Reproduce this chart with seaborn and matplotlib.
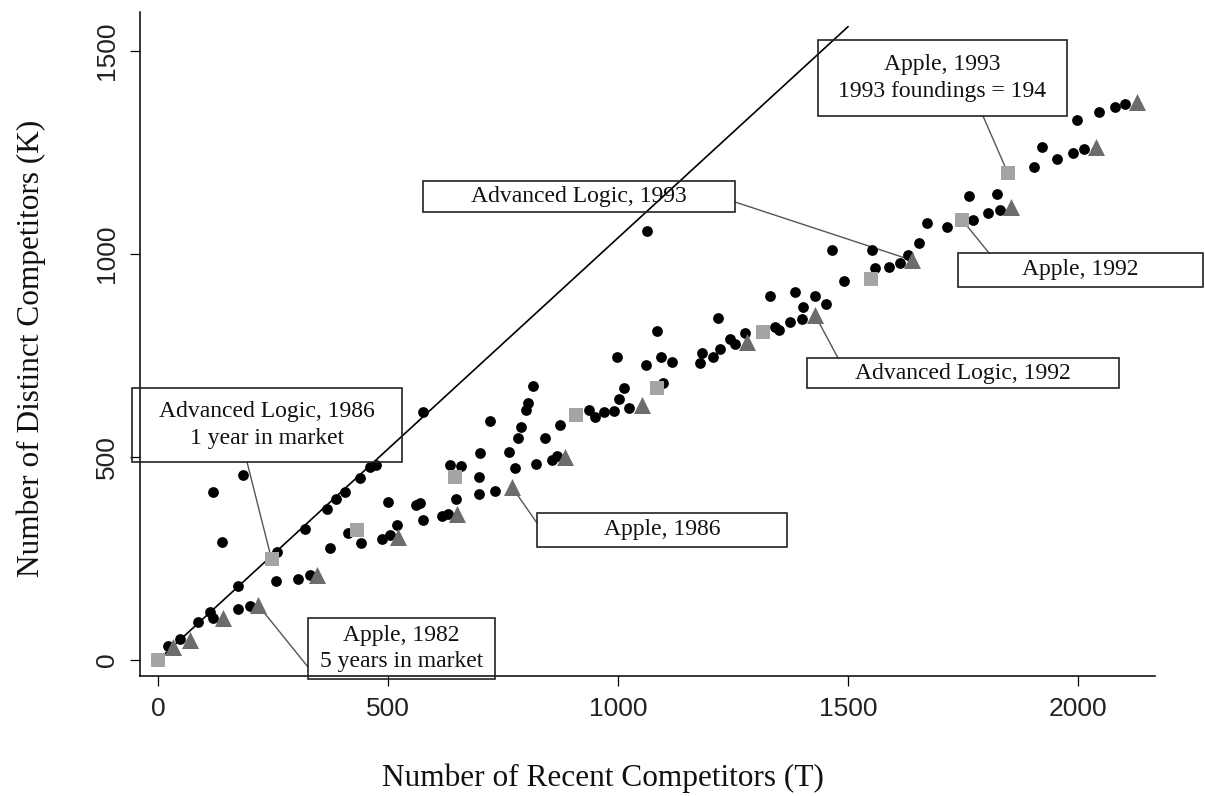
import numpy as np
import pandas as pd
import matplotlib
matplotlib.use('Agg')
import matplotlib.pyplot as plt
import seaborn as sns
from matplotlib.patches import Rectangle

# Recent competitors (T) vs distinct competitors (K), all firm-years
dots_t = [22, 48, 88, 113, 120, 120, 139, 175, 175, 184, 200, 256, 258, 305, 320, 330,
          368, 374, 388, 406, 412, 439, 441, 461, 475, 486, 501, 504, 519, 561, 570, 575,
          577, 617, 631, 634, 647, 658, 697, 697, 700, 722, 733, 762, 775, 782, 788, 801,
          805, 816, 822, 841, 856, 868, 874, 936, 950, 970, 991, 997, 1001, 1014, 1023,
          1061, 1062, 1084, 1093, 1098, 1117, 1178, 1183, 1207, 1218, 1222, 1243, 1254,
          1276, 1330, 1341, 1349, 1374, 1385, 1399, 1403, 1428, 1453, 1464, 1492, 1551,
          1559, 1588, 1613, 1631, 1655, 1672, 1714, 1763, 1771, 1805, 1823, 1830, 1903,
          1921, 1955, 1988, 1997, 2012, 2046, 2080, 2102]
dots_k = [34, 53, 94, 119, 103, 415, 291, 127, 182, 456, 133, 195, 267, 201, 324, 209,
          373, 275, 398, 415, 314, 448, 289, 475, 480, 298, 390, 308, 334, 382, 387, 345,
          610, 356, 361, 480, 398, 478, 410, 451, 509, 589, 417, 513, 474, 546, 575, 616,
          632, 676, 484, 546, 494, 502, 580, 617, 599, 612, 614, 746, 642, 669, 622,
          727, 1057, 811, 747, 683, 735, 732, 757, 746, 842, 767, 790, 778,
          805, 897, 821, 814, 833, 906, 841, 870, 897, 878, 1010, 934, 1010,
          965, 969, 977, 998, 1026, 1077, 1067, 1143, 1085, 1100, 1149, 1108, 1215,
          1263, 1235, 1249, 1330, 1258, 1349, 1363, 1369]

# Apple firm-years (light grey squares)
apple_t = [0, 247, 432, 646, 909, 1084, 1316, 1549, 1747, 1847]
apple_k = [0, 248, 320, 451, 603, 669, 807, 938, 1085, 1200]

# Advanced Logic firm-years (dark grey triangles)
adv_t = [33, 70, 142, 218, 345, 522, 649, 769, 885, 1051, 1280, 1428, 1638, 1855, 2039, 2128]
adv_k = [33, 49, 103, 135, 209, 304, 361, 427, 501, 628, 784, 850, 985, 1116, 1264, 1375]

# reference line K = T (as drawn)
ref_t = [0, 1500]
ref_k = [0, 1560]

W, H = 1205, 796

sns.set_theme(style='white')
plt.rcParams['font.family'] = ['Liberation Serif', 'DejaVu Serif']

fig = plt.figure(figsize=(W / 100, H / 100), dpi=100)
ax = fig.add_axes([140 / W, (H - 676) / H, (1155 - 140) / W, (676 - 12) / H])

sns.lineplot(x=ref_t, y=ref_k, ax=ax, color='black', linewidth=1.2, zorder=2)
sns.scatterplot(x=dots_t, y=dots_k, ax=ax, color='black', marker='o', s=60,
                linewidth=0, zorder=3)
sns.scatterplot(x=apple_t, y=apple_k, ax=ax, color='#a4a4a4', marker='s', s=115,
                linewidth=0, zorder=4)
sns.scatterplot(x=adv_t, y=adv_k, ax=ax, color='#6c6c6c', marker='^', s=150,
                linewidth=0, zorder=4)

ax.set_xlim(-39, 2167)
ax.set_ylim(-39, 1596)
ax.set_xticks([0, 500, 1000, 1500, 2000])
ax.set_yticks([0, 500, 1000, 1500])
sns.despine(ax=ax)
for sp in ['left', 'bottom']:
    ax.spines[sp].set_color('black')
    ax.spines[sp].set_linewidth(1.1)
ax.tick_params(axis='both', direction='out', length=7, width=0.9, color='black',
               labelsize=19, labelcolor='#222', pad=8, left=True, bottom=True)
for lab in ax.get_xticklabels() + ax.get_yticklabels():
    lab.set_family(['Liberation Sans', 'DejaVu Sans'])
for lab in ax.get_yticklabels():
    lab.set_rotation(90)
    lab.set_va('center')
ax.set_xlabel('')
ax.set_ylabel('')

fig.text(603 / W, 1 - 778 / H, 'Number of Recent Competitors (T)', ha='center',
         va='center', fontsize=22.5, color='#111')
fig.text(31 / W, 1 - 348 / H, 'Number of Distinct Competitors (K)', ha='center',
         va='center', rotation=90, fontsize=22.5, color='#111')


def label_box(box_px, text, start_px, target):
    l, t, r, b = box_px
    rect = Rectangle((l / W, 1 - b / H), (r - l) / W, (b - t) / H,
                     transform=fig.transFigure, fill=False, edgecolor='#222',
                     linewidth=1.2, zorder=5)
    fig.add_artist(rect)
    fig.text((l + r) / 2 / W, 1 - (t + b) / 2 / H, text, ha='center', va='center',
             fontsize=17, color='#111', linespacing=1.35, zorder=6)
    ax.annotate('', xy=target, xycoords='data',
                xytext=(start_px[0] / W, 1 - start_px[1] / H),
                textcoords='figure fraction',
                arrowprops=dict(arrowstyle='-', color='#555', lw=1.0,
                                shrinkA=0, shrinkB=0),
                zorder=2, annotation_clip=False)


label_box((818, 40, 1067, 116), 'Apple, 1993\n1993 foundings = 194', (983, 116),
          (apple_t[9], apple_k[9]))
label_box((423, 181, 735, 212), 'Advanced Logic, 1993', (735, 202),
          (adv_t[12], adv_k[12]))
label_box((958, 253, 1203, 287), 'Apple, 1992', (989, 253),
          (apple_t[8], apple_k[8]))
label_box((807, 358, 1119, 388), 'Advanced Logic, 1992', (838, 358),
          (adv_t[11], adv_k[11]))
label_box((537, 513, 787, 547), 'Apple, 1986', (537, 523),
          (adv_t[7], adv_k[7]))
label_box((132, 388, 402, 462), 'Advanced Logic, 1986\n1 year in market', (247, 462),
          (apple_t[1], apple_k[1]))
label_box((308, 618, 495, 679), 'Apple, 1982\n5 years in market', (308, 667),
          (adv_t[3], adv_k[3]))

fig.savefig('out.png', dpi=100)
